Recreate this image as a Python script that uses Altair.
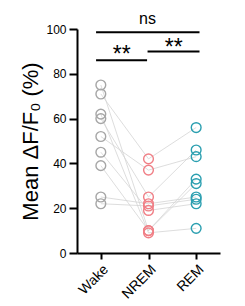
import altair as alt
import pandas as pd

conditions = ["Wake", "NREM", "REM"]
colors = ["#a6a6a6", "#f07f86", "#2b9fb0"]
wake = [75, 71, 62, 60, 52, 45, 39, 25, 22]
nrem = [10, 42, 9, 25, 37, 19, 10, 22, 21]
rem = [31, 56, 11, 46, 43, 22, 33, 25, 24]

rows = []
for s in range(len(wake)):
    for ci, vals in enumerate([wake, nrem, rem]):
        rows.append({"subject": s, "cond": conditions[ci], "x": ci, "value": vals[s]})
df = pd.DataFrame(rows)

brackets = pd.DataFrame({
    "x": [-0.1, -0.1, 0.98],
    "x2": [2.07, 0.97, 2.07],
    "y": [98.5, 86.0, 90.0],
})
labels = pd.DataFrame({
    "x": [0.98, 0.44, 1.53],
    "y": [102.2, 85.4, 88.2],
    "text": ["ns", "**", "**"],
    "size": [16, 23, 23],
})

xscale = alt.Scale(domain=[-0.5, 2.5], nice=False, zero=False)
yscale = alt.Scale(domain=[0, 100], nice=False)

label_expr = "[" + ",".join(f"'{c}'" for c in conditions) + "][datum.value]"

base = alt.Chart(df)

lines = base.mark_line(color="#d4d4d4", strokeWidth=0.8).encode(
    x=alt.X("x:Q", scale=xscale,
            axis=alt.Axis(values=[0, 1, 2], labelExpr=label_expr, title=None,
                          labelAngle=-45, labelAlign="right", labelBaseline="top",
                          labelFontSize=14, tickSize=6, labelPadding=3)),
    y=alt.Y("value:Q", scale=yscale,
            axis=alt.Axis(values=[0, 20, 40, 60, 80, 100], title="Mean ΔF/F₀ (%)",
                          titleFontSize=22, titleFontWeight="normal",
                          titleX=-40, titleBaseline="alphabetic",
                          labelFontSize=12, tickSize=8, labelPadding=3)),
    detail="subject:N",
    order="x:Q",
)

points = base.mark_point(filled=False, size=95, strokeWidth=1.4, opacity=1).encode(
    x=alt.X("x:Q", scale=xscale),
    y=alt.Y("value:Q", scale=yscale),
    color=alt.Color("cond:N", scale=alt.Scale(domain=conditions, range=colors), legend=None),
)

rules = alt.Chart(brackets).mark_rule(color="black", strokeWidth=2).encode(
    x=alt.X("x:Q", scale=xscale), x2="x2:Q", y=alt.Y("y:Q", scale=yscale)
)

texts = alt.Chart(labels).mark_text(baseline="alphabetic", align="center", color="black",
                                    font="Liberation Sans").encode(
    x=alt.X("x:Q", scale=xscale),
    y=alt.Y("y:Q", scale=yscale),
    text="text:N",
    size=alt.Size("size:Q", scale=None, legend=None),
)

chart = alt.layer(lines, points, rules, texts).properties(
    width=143, height=224,
    autosize=alt.AutoSizeParams(type="none"),
    padding={"left": 77, "top": 29, "right": 25, "bottom": 53},
).configure_view(stroke=None).configure_axis(
    grid=False, domainColor="black", domainWidth=2, tickColor="black", tickWidth=2,
    labelColor="black", titleColor="black", labelFont="Liberation Sans",
    titleFont="Liberation Sans",
)

chart.save("out.html", embed_options={"renderer": "svg", "actions": False})
